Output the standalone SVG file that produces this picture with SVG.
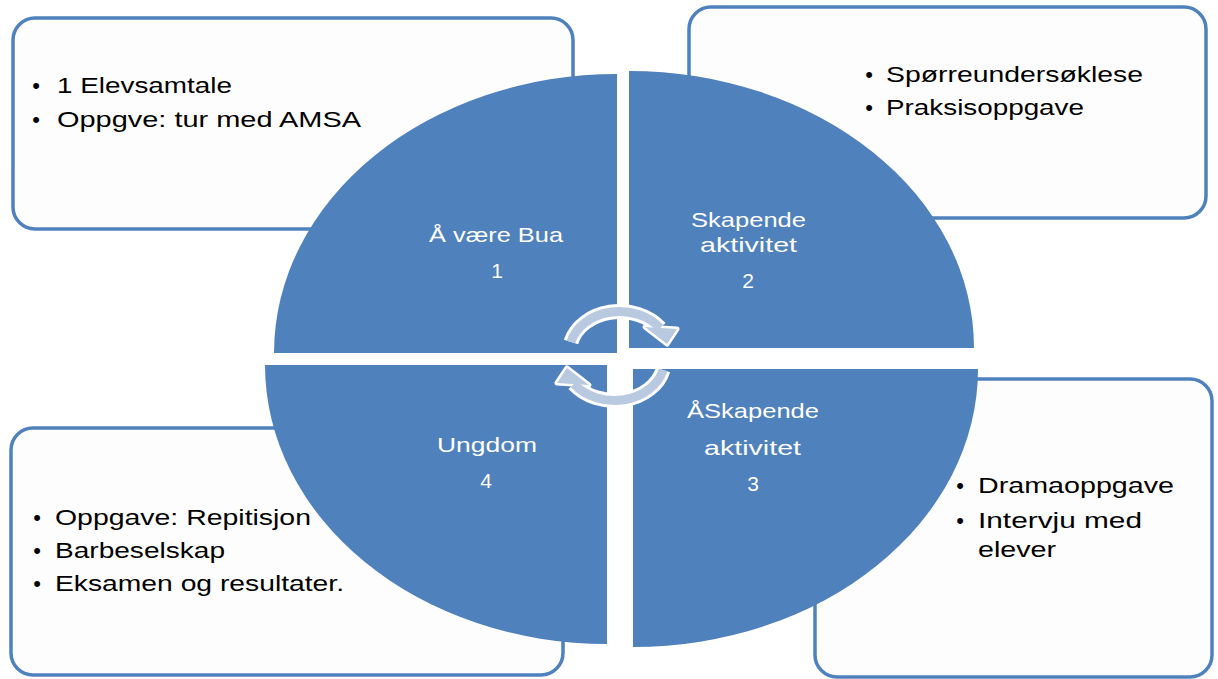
<svg xmlns="http://www.w3.org/2000/svg" width="1218" height="679" viewBox="0 0 1218 679">
  <style>
    .box { fill: #fdfdfd; stroke: #4f81bd; stroke-width: 3.5; }
    .quad { fill: #4f81bd; }
    .item { font-family: "Liberation Sans", Arial, sans-serif; font-size: 22px; fill: #000; }
    .bul { font-family: "Liberation Sans", Arial, sans-serif; font-size: 22px; fill: #000; text-anchor: middle; }
    .lbl { font-family: "Liberation Sans", Arial, sans-serif; font-size: 21px; fill: #fff; }
    .num { font-family: "Liberation Sans", Arial, sans-serif; font-size: 21px; fill: #fff; text-anchor: middle; }
    .arcw { fill: none; stroke: #fff; stroke-width: 15; }
    .arcf { fill: none; stroke: #b9c9e0; stroke-width: 9; }
    .headw { fill: #fff; stroke: #fff; stroke-width: 5; stroke-linejoin: round; }
    .headf { fill: #b9c9e0; }
  </style>

  <!-- Side boxes -->
  <g id="box-1">
    <rect class="box" x="13" y="18" width="560" height="211" rx="22"/>
    <text class="bul" x="36" y="93">•</text>
    <text class="item" x="57" y="93" textLength="175" lengthAdjust="spacingAndGlyphs">1 Elevsamtale</text>
    <text class="bul" x="36" y="127">•</text>
    <text class="item" x="57" y="127" textLength="304" lengthAdjust="spacingAndGlyphs">Oppgve: tur med AMSA</text>
  </g>
  <g id="box-2">
    <rect class="box" x="689" y="7" width="517" height="211" rx="22"/>
    <text class="bul" x="869" y="82">•</text>
    <text class="item" x="886" y="82" textLength="257" lengthAdjust="spacingAndGlyphs">Spørreundersøklese</text>
    <text class="bul" x="869" y="115">•</text>
    <text class="item" x="886" y="115" textLength="198" lengthAdjust="spacingAndGlyphs">Praksisoppgave</text>
  </g>
  <g id="box-4">
    <rect class="box" x="11" y="428" width="552" height="247" rx="22"/>
    <text class="bul" x="37" y="525">•</text>
    <text class="item" x="55" y="525" textLength="256" lengthAdjust="spacingAndGlyphs">Oppgave: Repitisjon</text>
    <text class="bul" x="37" y="558">•</text>
    <text class="item" x="55" y="558" textLength="170" lengthAdjust="spacingAndGlyphs">Barbeselskap</text>
    <text class="bul" x="37" y="591">•</text>
    <text class="item" x="55" y="591" textLength="289" lengthAdjust="spacingAndGlyphs">Eksamen og resultater.</text>
  </g>
  <g id="box-3">
    <rect class="box" x="815" y="379" width="397" height="298" rx="22"/>
    <text class="bul" x="960" y="493">•</text>
    <text class="item" x="978" y="493" textLength="196" lengthAdjust="spacingAndGlyphs">Dramaoppgave</text>
    <text class="bul" x="960" y="528">•</text>
    <text class="item" x="978" y="528" textLength="164" lengthAdjust="spacingAndGlyphs">Intervju med</text>
    <text class="item" x="978" y="557" textLength="78" lengthAdjust="spacingAndGlyphs">elever</text>
  </g>

  <!-- Quadrants -->
  <g id="quadrant-1">
    <path class="quad" d="M617,353 L274,353 A343,279 0 0 1 617,74 Z"/>
    <text class="lbl" x="429" y="242" textLength="134" lengthAdjust="spacingAndGlyphs">Å være Bua</text>
    <text class="num" x="497" y="278">1</text>
  </g>
  <g id="quadrant-2">
    <path class="quad" d="M629,348 L629,71 A345,277 0 0 1 974,348 Z"/>
    <text class="lbl" x="691" y="227" textLength="115" lengthAdjust="spacingAndGlyphs">Skapende</text>
    <text class="lbl" x="700" y="252" textLength="97" lengthAdjust="spacingAndGlyphs">aktivitet</text>
    <text class="num" x="748" y="288">2</text>
  </g>
  <g id="quadrant-3">
    <path class="quad" d="M633,369 L978,369 A345,278 0 0 1 633,647 Z"/>
    <text class="lbl" x="687" y="418" textLength="132" lengthAdjust="spacingAndGlyphs">ÅSkapende</text>
    <text class="lbl" x="704" y="455" textLength="97" lengthAdjust="spacingAndGlyphs">aktivitet</text>
    <text class="num" x="753" y="491">3</text>
  </g>
  <g id="quadrant-4">
    <path class="quad" d="M607,365 L607,644 A342,279 0 0 1 265,365 Z"/>
    <text class="lbl" x="437" y="452" textLength="100" lengthAdjust="spacingAndGlyphs">Ungdom</text>
    <text class="num" x="486" y="488">4</text>
  </g>

  <!-- Cycle arrows -->
  <g id="connectors">
    <path class="arcw" d="M571,342 A50,40 0 0 1 660,328"/>
    <polygon class="headw" points="645,327 677,329 667,344"/>
    <path class="arcw" d="M663,370 A50,40 0 0 1 574,384"/>
    <polygon class="headw" points="589,385 557,383 567,368"/>
    <path class="arcf" d="M571,342 A50,40 0 0 1 660,328"/>
    <polygon class="headf" points="645,327 677,329 667,344"/>
    <path class="arcf" d="M663,370 A50,40 0 0 1 574,384"/>
    <polygon class="headf" points="589,385 557,383 567,368"/>
  </g>
</svg>
